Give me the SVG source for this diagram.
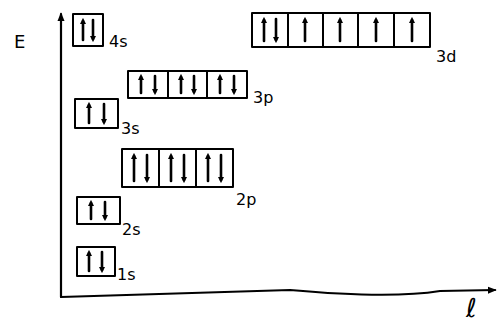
<svg xmlns="http://www.w3.org/2000/svg" width="501" height="327" viewBox="0 0 501 327">
<style>
.box{fill:none;stroke:#000;stroke-width:2;stroke-linejoin:round}
.div{stroke:#000;stroke-width:2}
.e{stroke:#000;stroke-width:2.6;stroke-linecap:round;marker-end:url(#ah)}
.lbl{font-family:"DejaVu Sans",sans-serif;font-size:16px;fill:#000}
.ax{fill:none;stroke:#000;stroke-width:2.2;stroke-linecap:round}
</style>
<defs>
<marker id="ah" viewBox="0 0 10 10" refX="5" refY="5" markerWidth="2.4" markerHeight="2.6" orient="auto" markerUnits="strokeWidth">
<path d="M0,0 L10,5 L0,10 z" fill="#000"/>
</marker>
<marker id="axh" viewBox="0 0 10 10" refX="8" refY="5" markerWidth="4" markerHeight="4" orient="auto" markerUnits="strokeWidth">
<path d="M0,1 L10,5 L0,9 z" fill="#000"/>
</marker>
</defs>
<g id="axes">
<path class="ax" d="M61,297 L290,290 Q390,299 440,291 L495,290" marker-end="url(#axh)"/>
<path class="ax" d="M61,297 L61,14" marker-end="url(#axh)"/>
<text x="14" y="48" font-family="DejaVu Sans, sans-serif" font-size="18">E</text>
<text x="466" y="317" font-family="DejaVu Sans, sans-serif" font-size="26" font-style="italic">ℓ</text>
</g>
<g id="n4s">
<rect class="box" x="73" y="14" width="30" height="32"/>
<line class="e" x1="83" y1="40" x2="83" y2="21"/>
<line class="e" x1="93" y1="20" x2="93" y2="39"/>
<text class="lbl" x="109" y="47" font-size="14">4s</text>
</g>
<g id="n3d">
<rect class="box" x="252" y="13" width="178" height="34"/>
<line class="div" x1="288" y1="13" x2="288" y2="47"/>
<line class="div" x1="323" y1="13" x2="323" y2="47"/>
<line class="div" x1="358" y1="13" x2="358" y2="47"/>
<line class="div" x1="394" y1="13" x2="394" y2="47"/>
<line class="e" x1="264" y1="41" x2="264" y2="20"/>
<line class="e" x1="276" y1="19" x2="276" y2="40"/>
<line class="e" x1="305" y1="41" x2="305" y2="20"/>
<line class="e" x1="340" y1="41" x2="340" y2="20"/>
<line class="e" x1="376" y1="41" x2="376" y2="20"/>
<line class="e" x1="412" y1="41" x2="412" y2="20"/>
<text class="lbl" x="436" y="62" font-size="17">3d</text>
</g>
<g id="n3p">
<rect class="box" x="128" y="71" width="119" height="27"/>
<line class="div" x1="168" y1="71" x2="168" y2="98"/>
<line class="div" x1="207" y1="71" x2="207" y2="98"/>
<line class="e" x1="141" y1="93" x2="141" y2="77"/>
<line class="e" x1="155" y1="76" x2="155" y2="92"/>
<line class="e" x1="181" y1="93" x2="181" y2="77"/>
<line class="e" x1="194" y1="76" x2="194" y2="92"/>
<line class="e" x1="220" y1="93" x2="220" y2="77"/>
<line class="e" x1="234" y1="76" x2="234" y2="92"/>
<text class="lbl" x="253" y="103">3p</text>
</g>
<g id="n3s">
<rect class="box" x="75" y="99" width="43" height="29"/>
<line class="e" x1="89" y1="123" x2="89" y2="105"/>
<line class="e" x1="104" y1="104" x2="104" y2="122"/>
<text class="lbl" x="121" y="134">3s</text>
</g>
<g id="n2p">
<rect class="box" x="122" y="149" width="111" height="38"/>
<line class="div" x1="159" y1="149" x2="159" y2="187"/>
<line class="div" x1="196" y1="149" x2="196" y2="187"/>
<line class="e" x1="134" y1="181" x2="134" y2="156"/>
<line class="e" x1="147" y1="155" x2="147" y2="180"/>
<line class="e" x1="171" y1="181" x2="171" y2="156"/>
<line class="e" x1="184" y1="155" x2="184" y2="180"/>
<line class="e" x1="208" y1="181" x2="208" y2="156"/>
<line class="e" x1="221" y1="155" x2="221" y2="180"/>
<text class="lbl" x="236" y="205">2p</text>
</g>
<g id="n2s">
<rect class="box" x="77" y="197" width="43" height="27"/>
<line class="e" x1="91" y1="219" x2="91" y2="203"/>
<line class="e" x1="105" y1="202" x2="105" y2="218"/>
<text class="lbl" x="122" y="235">2s</text>
</g>
<g id="n1s">
<rect class="box" x="77" y="247" width="38" height="29"/>
<line class="e" x1="89" y1="271" x2="89" y2="253"/>
<line class="e" x1="102" y1="252" x2="102" y2="270"/>
<text class="lbl" x="117" y="280">1s</text>
</g>
</svg>
